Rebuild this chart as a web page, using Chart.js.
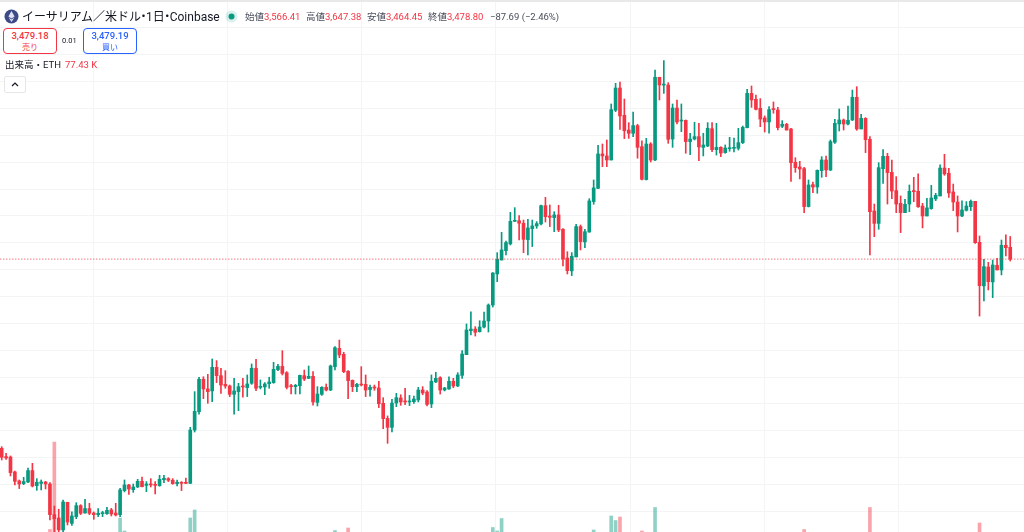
<!DOCTYPE html>
<html lang="ja">
<head>
<meta charset="utf-8">
<title>ETHUSD</title>
<script src="https://cdn.jsdelivr.net/npm/chart.js@4/dist/chart.umd.min.js"></script>
<style>
    html, body { margin: 0; padding: 0; background: #fff; }
    body { width: 1024px; height: 532px; overflow: hidden; position: relative; font-family: Roboto, "Noto Sans CJK JP", sans-serif; color: #131722; }
    canvas { position: absolute; left: 0; top: 0; }
    #topbar { position: absolute; left: 0; top: 0; width: 1024px; height: 2px; background: #e9e9ea; }
    .t { position: absolute; white-space: nowrap; }
    .red { color: #f23645; }
    #title { left: 22px; top: 8px; font-size: 12px; line-height: 18px; color: #131722; }
    #title .dot { margin: 0 -3.5px; }
    .ohlc { top: 10px; font-size: 9.5px; line-height: 14px; color: #4a4f5c; }
    .box { position: absolute; top: 28px; height: 24px; border-radius: 4px; background: #fff; text-align: center; box-sizing: content-box; }
    .box div { white-space: nowrap; }
    .box .p { font-size: 9.5px; line-height: 12px; margin-top: 1px; font-weight: 500; }
    .box .s { font-size: 8px; line-height: 11px; }
    #sell { left: 3px; width: 52px; border: 1px solid #f23645; color: #f23645; }
    #buy { left: 83px; width: 52px; border: 1px solid #2962ff; color: #2962ff; }
    #spread { left: 62px; top: 35px; font-size: 7.5px; line-height: 12px; }
    #vol { left: 5px; top: 58px; font-size: 9.5px; line-height: 14px; }
    #volval { left: 65px; top: 58px; font-size: 9.5px; line-height: 14px; }
    #collapse { position: absolute; left: 4px; top: 76px; width: 20px; height: 15px; border: 1px solid #e6e6e8; border-radius: 2px; background: #fff; }
</style>
</head>
<body>
<canvas id="chart" width="1024" height="532"></canvas>
<div id="topbar"></div>

<svg class="t" style="left:4px;top:9px" width="15" height="15" viewBox="0 0 15 15">
    <circle cx="7.5" cy="7.5" r="7" fill="#3d4a85"/>
    <path d="M7.5 2 L4.4 7.6 L7.5 9.4 L10.6 7.6 Z M7.5 10.4 L4.6 8.6 L7.5 13 L10.4 8.6 Z" fill="#dfe3f3"/>
</svg>
<div class="t" id="title">イーサリアム／米ドル<span class="dot">・</span>1日<span class="dot">・</span>Coinbase</div>
<svg class="t" style="left:225px;top:10px" width="13" height="13" viewBox="0 0 13 13">
    <circle cx="6.5" cy="6.5" r="6" fill="#089981" fill-opacity="0.15"/>
    <circle cx="6.5" cy="6.5" r="3" fill="#089981"/>
</svg>
<div class="t ohlc" style="left:245px">始値<span class="red">3,566.41</span></div>
<div class="t ohlc" style="left:306px">高値<span class="red">3,647.38</span></div>
<div class="t ohlc" style="left:367px">安値<span class="red">3,464.45</span></div>
<div class="t ohlc" style="left:428px">終値<span class="red">3,478.80</span></div>
<div class="t ohlc red" style="left:490px">−87.69 (−2.46%)</div>

<div class="box" id="sell"><div class="p">3,479.18</div><div class="s">売り</div></div>
<div class="t" id="spread">0.01</div>
<div class="box" id="buy"><div class="p">3,479.19</div><div class="s">買い</div></div>

<div class="t" id="vol">出来高・ETH</div>
<div class="t red" id="volval">77.43 K</div>
<div id="collapse">
    <svg width="20" height="15" viewBox="0 0 20 15"><path d="M7 9 L10 6 L13 9" fill="none" stroke="#131722" stroke-width="1.2"/></svg>
</div>

<script>
// one daily candle per entry
const opens = [
    2070, 2008, 2005, 1894, 1827, 1807, 1819, 1904, 1792, 1809,
    1819, 1804, 1576, 1551, 1462, 1668, 1511, 1561, 1643, 1588,
    1621, 1588, 1576, 1583, 1583, 1611, 1588, 1576, 1755, 1797,
    1762, 1782, 1824, 1794, 1802, 1799, 1792, 1836, 1844, 1832,
    1807, 1817, 1817, 1809, 2206, 2343, 2584, 2512, 2497, 2673,
    2611, 2546, 2534, 2472, 2492, 2534, 2522, 2554, 2665, 2524,
    2527, 2551, 2559, 2656, 2680, 2633, 2534, 2529, 2536, 2611,
    2591, 2606, 2412, 2472, 2524, 2504, 2678, 2814, 2770, 2643,
    2576, 2529, 2546, 2546, 2507, 2524, 2519, 2405, 2293, 2226,
    2407, 2445, 2420, 2415, 2417, 2430, 2504, 2489, 2400, 2564,
    2596, 2504, 2512, 2569, 2534, 2613, 2767, 2946, 2958, 2938,
    2973, 3018, 3137, 3368, 3472, 3542, 3592, 3760, 3765, 3746,
    3624, 3706, 3726, 3741, 3877, 3800, 3788, 3808, 3701, 3487,
    3391, 3495, 3721, 3607, 3681, 3907, 4006, 4262, 4247, 4217,
    4587, 4753, 4550, 4440, 4416, 4473, 4316, 4071, 4336, 4217,
    4833, 4775, 4775, 4373, 4604, 4507, 4512, 4354, 4373, 4391,
    4311, 4321, 4450, 4294, 4311, 4272, 4301, 4304, 4304, 4346,
    4458, 4713, 4669, 4602, 4530, 4500, 4597, 4589, 4468, 4483,
    4448, 4200, 4165, 4153, 3870, 4033, 4016, 4138, 4217, 4142,
    4349, 4485, 4515, 4485, 4515, 4684, 4448, 4527, 4371, 3837,
    3745, 4152, 4244, 4125, 3989, 3894, 3825, 3889, 3989, 3984,
    3874, 3800, 3855, 3927, 3949, 4157, 4118, 3979, 3904, 3800,
    3842, 3869, 3909, 3604, 3279, 3420, 3309, 3433, 3398, 3582,
    3566.41
];
const highs = [
    2082, 2033, 2013, 1901, 1834, 1854, 1923, 1958, 1844, 1834,
    1824, 1814, 1640, 1616, 1685, 1668, 1596, 1665, 1650, 1690,
    1660, 1596, 1621, 1601, 1630, 1623, 1660, 1772, 1834, 1802,
    1804, 1839, 1856, 1822, 1844, 1822, 1869, 1869, 1851, 1844,
    1834, 1822, 1849, 2226, 2492, 2598, 2603, 2621, 2735, 2723,
    2666, 2648, 2541, 2591, 2554, 2591, 2616, 2698, 2732, 2579,
    2559, 2599, 2710, 2695, 2797, 2641, 2546, 2546, 2616, 2653,
    2683, 2641, 2529, 2529, 2549, 2690, 2827, 2876, 2785, 2648,
    2579, 2554, 2678, 2616, 2541, 2541, 2569, 2447, 2311, 2435,
    2479, 2469, 2517, 2464, 2459, 2524, 2529, 2499, 2616, 2636,
    2603, 2524, 2603, 2591, 2633, 2797, 2996, 3087, 2976, 3020,
    3085, 3145, 3379, 3527, 3678, 3614, 3827, 3862, 3803, 3770,
    3775, 3770, 3758, 3882, 3939, 3882, 3832, 3880, 3706, 3534,
    3527, 3738, 3733, 3701, 3929, 4068, 4326, 4336, 4366, 4634,
    4788, 4798, 4671, 4495, 4574, 4483, 4359, 4378, 4346, 4887,
    4833, 4957, 4793, 4634, 4664, 4634, 4515, 4416, 4498, 4490,
    4416, 4495, 4495, 4490, 4316, 4329, 4386, 4381, 4453, 4470,
    4743, 4768, 4701, 4674, 4545, 4614, 4649, 4609, 4510, 4490,
    4453, 4234, 4207, 4162, 4068, 4053, 4143, 4242, 4247, 4366,
    4520, 4597, 4522, 4619, 4738, 4763, 4557, 4532, 4391, 3889,
    4197, 4294, 4267, 4217, 4093, 3949, 3924, 4031, 4088, 4113,
    3894, 3931, 4028, 3969, 4180, 4259, 4155, 4038, 3949, 3912,
    3907, 3919, 3909, 3651, 3477, 3455, 3472, 3485, 3621, 3659,
    3647.38
];
const lows = [
    1983, 1988, 1864, 1797, 1770, 1799, 1814, 1782, 1757, 1760,
    1767, 1536, 1412, 1387, 1387, 1499, 1496, 1546, 1576, 1586,
    1576, 1541, 1561, 1561, 1578, 1566, 1566, 1561, 1745, 1727,
    1742, 1777, 1782, 1747, 1782, 1730, 1787, 1814, 1822, 1802,
    1789, 1755, 1807, 1807, 2191, 2325, 2440, 2405, 2417, 2559,
    2479, 2517, 2455, 2325, 2350, 2450, 2455, 2546, 2499, 2512,
    2469, 2517, 2554, 2648, 2616, 2512, 2474, 2474, 2474, 2574,
    2589, 2392, 2385, 2464, 2497, 2499, 2653, 2745, 2633, 2440,
    2492, 2492, 2534, 2455, 2459, 2502, 2373, 2216, 2107, 2191,
    2380, 2390, 2395, 2388, 2405, 2415, 2469, 2385, 2373, 2559,
    2474, 2497, 2509, 2521, 2529, 2591, 2767, 2914, 2906, 2936,
    2966, 2936, 3122, 3311, 3472, 3510, 3584, 3758, 3621, 3527,
    3510, 3572, 3708, 3733, 3755, 3721, 3683, 3683, 3428, 3368,
    3356, 3495, 3547, 3564, 3678, 3887, 4004, 4167, 4167, 4217,
    4577, 4445, 4376, 4378, 4391, 4230, 4068, 4068, 4202, 4212,
    4664, 4713, 4341, 4311, 4485, 4428, 4267, 4257, 4366, 4212,
    4247, 4316, 4279, 4254, 4242, 4267, 4282, 4277, 4291, 4339,
    4455, 4609, 4589, 4465, 4425, 4416, 4565, 4440, 4458, 4440,
    4058, 4125, 4076, 3825, 3867, 3974, 3969, 4088, 4093, 4138,
    4341, 4433, 4440, 4478, 4510, 4438, 4448, 4272, 3510, 3646,
    3701, 4043, 3889, 3929, 3825, 3676, 3825, 3832, 3907, 3864,
    3711, 3800, 3850, 3914, 3949, 4103, 3939, 3840, 3681, 3795,
    3837, 3840, 3596, 3055, 3167, 3249, 3192, 3398, 3361, 3502,
    3464.45
];
const closes = [
    2003, 1998, 1889, 1824, 1804, 1822, 1904, 1789, 1817, 1819,
    1804, 1576, 1546, 1462, 1670, 1521, 1566, 1643, 1586, 1621,
    1586, 1576, 1586, 1591, 1608, 1581, 1573, 1760, 1797, 1767,
    1782, 1824, 1784, 1804, 1797, 1794, 1839, 1846, 1832, 1807,
    1817, 1809, 1809, 2206, 2345, 2584, 2512, 2492, 2673, 2611,
    2541, 2534, 2472, 2497, 2529, 2527, 2549, 2666, 2517, 2531,
    2549, 2564, 2658, 2680, 2628, 2524, 2529, 2539, 2613, 2586,
    2606, 2415, 2474, 2524, 2504, 2683, 2819, 2765, 2641, 2574,
    2529, 2546, 2541, 2504, 2524, 2519, 2402, 2291, 2226, 2407,
    2447, 2415, 2415, 2422, 2437, 2504, 2482, 2397, 2569, 2591,
    2504, 2519, 2569, 2534, 2616, 2772, 2951, 2958, 2934, 2973,
    3018, 3137, 3375, 3477, 3547, 3602, 3760, 3765, 3746, 3626,
    3711, 3726, 3743, 3877, 3795, 3790, 3808, 3696, 3480, 3393,
    3500, 3721, 3609, 3683, 3912, 4009, 4262, 4247, 4217, 4592,
    4753, 4545, 4435, 4416, 4473, 4311, 4073, 4336, 4217, 4833,
    4775, 4780, 4371, 4604, 4500, 4512, 4354, 4373, 4391, 4314,
    4329, 4453, 4294, 4311, 4269, 4306, 4306, 4309, 4346, 4460,
    4713, 4664, 4594, 4522, 4500, 4592, 4592, 4458, 4483, 4440,
    4197, 4160, 4150, 3870, 4031, 4016, 4140, 4217, 4143, 4354,
    4490, 4515, 4485, 4512, 4684, 4448, 4527, 4368, 3832, 3745,
    4160, 4244, 4123, 3986, 3889, 3825, 3887, 3984, 3981, 3869,
    3800, 3860, 3934, 3954, 4157, 4113, 3971, 3904, 3800, 3845,
    3874, 3909, 3601, 3281, 3423, 3311, 3435, 3398, 3582, 3564,
    3478.80
];
// volume in thousands, most of the bars end below the visible part of the pane
const volumes = [
    120, 120, 120, 120, 120, 120, 120, 120, 120, 120,
    120, 205, 380, 120, 120, 120, 120, 120, 120, 120,
    120, 120, 120, 120, 120, 120, 120, 228, 202, 120,
    120, 120, 120, 120, 120, 120, 120, 120, 120, 120,
    120, 120, 120, 228, 244, 120, 120, 120, 120, 120,
    120, 120, 120, 120, 120, 120, 120, 120, 120, 120,
    120, 120, 120, 120, 120, 120, 120, 120, 120, 120,
    120, 120, 120, 120, 120, 120, 203, 120, 120, 208,
    120, 120, 120, 120, 120, 120, 120, 120, 120, 120,
    120, 120, 120, 120, 120, 120, 120, 120, 120, 120,
    120, 120, 120, 120, 120, 120, 120, 120, 120, 120,
    120, 120, 209, 202, 227, 120, 120, 120, 120, 120,
    120, 120, 120, 120, 120, 120, 120, 120, 120, 120,
    120, 120, 120, 120, 120, 204, 120, 120, 120, 232,
    223, 230, 120, 120, 120, 120, 202, 120, 120, 249,
    120, 120, 120, 120, 120, 120, 120, 120, 120, 120,
    120, 120, 120, 120, 120, 120, 120, 120, 120, 120,
    120, 120, 120, 120, 120, 120, 120, 120, 120, 120,
    120, 120, 120, 205, 120, 120, 120, 120, 120, 120,
    120, 120, 120, 120, 120, 120, 120, 120, 249, 120,
    120, 120, 120, 120, 120, 120, 120, 120, 120, 120,
    120, 120, 120, 120, 120, 120, 120, 120, 120, 120,
    120, 120, 120, 218, 120, 120, 120, 120, 120, 120,
    77.43
];
const priceTicks = [1600, 1800, 2000, 2200, 2400, 2600, 2800, 3000, 3200, 3400, 3600, 3800, 4000, 4200, 4400, 4600, 4800, 5000, 5200, 5400];
// candle index of the first day of each month (Apr..Nov)
const monthStarts = [6, 36, 67, 97, 128, 159, 189, 220];
const lastClose = 3478.80;

const GREEN = '#089981';
const RED = '#f23645';
const GREEN_VOL = 'rgba(8, 153, 129, 0.45)';
const RED_VOL = 'rgba(242, 54, 69, 0.45)';
const GRID = '#f3f4f6';

document.addEventListener("DOMContentLoaded", function () {
    const isUp = opens.map((o, i) => closes[i] >= o);
    const candleColors = isUp.map(up => up ? GREEN : RED);

    const ctx = document.getElementById('chart').getContext('2d');
    new Chart(ctx, {
        data: {
            datasets: [
                {
                    type: 'bar',
                    order: 3,
                    yAxisID: 'yVol',
                    grouped: false,
                    barThickness: 3,
                    backgroundColor: isUp.map(up => up ? GREEN_VOL : RED_VOL),
                    data: volumes.map((v, i) => ({ x: i, y: v }))
                },
                {
                    type: 'bar',
                    order: 2,
                    yAxisID: 'y',
                    grouped: false,
                    barThickness: 1,
                    backgroundColor: candleColors,
                    data: lows.map((l, i) => ({ x: i, y: [l, highs[i]] }))
                },
                {
                    type: 'bar',
                    order: 1,
                    yAxisID: 'y',
                    grouped: false,
                    barThickness: 3,
                    minBarLength: 1,
                    backgroundColor: candleColors,
                    data: opens.map((o, i) => ({ x: i, y: [o, closes[i]] }))
                },
                {
                    type: 'line',
                    order: 0,
                    yAxisID: 'y',
                    borderColor: RED,
                    borderWidth: 1,
                    borderDash: [1, 2],
                    pointRadius: 0,
                    data: [{ x: -1, y: lastClose }, { x: 234, y: lastClose }]
                }
            ]
        },
        options: {
            responsive: false,
            animation: false,
            layout: { padding: 0 },
            plugins: { legend: { display: false }, tooltip: { enabled: false } },
            scales: {
                x: {
                    type: 'linear',
                    offset: false,
                    min: -0.39,
                    max: 233.14,
                    afterBuildTicks: axis => { axis.ticks = monthStarts.map(v => ({ value: v })); },
                    ticks: { display: false },
                    border: { display: false },
                    grid: { color: GRID, drawTicks: false }
                },
                y: {
                    min: 1446.6,
                    max: 5408.4,
                    afterBuildTicks: axis => { axis.ticks = priceTicks.map(v => ({ value: v })); },
                    ticks: { display: false },
                    border: { display: false },
                    grid: { color: GRID, drawTicks: false }
                },
                yVol: {
                    display: false,
                    min: 200,
                    max: 1264
                }
            }
        }
    });
});
</script>
</body>
</html>
